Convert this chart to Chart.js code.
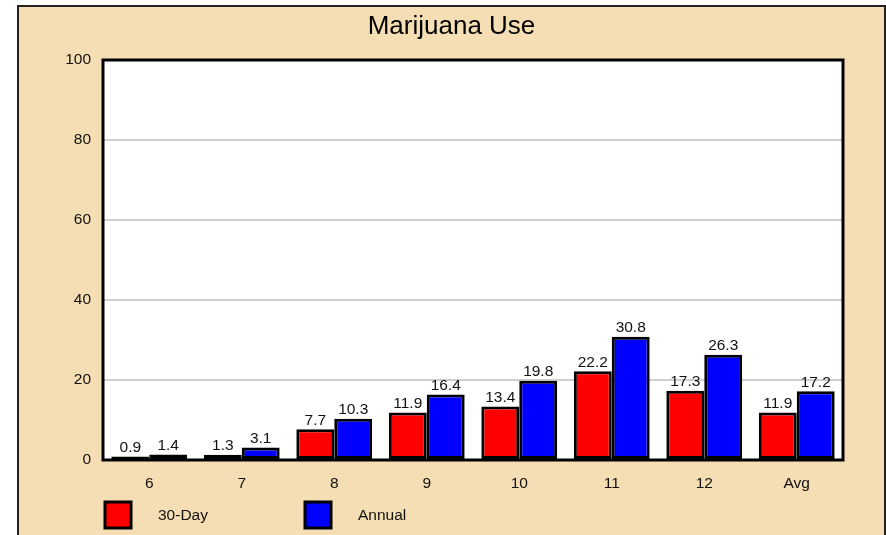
<!DOCTYPE html>
<html>
<head>
<meta charset="utf-8">
<script src="https://cdn.jsdelivr.net/npm/chart.js@4.4.0/dist/chart.umd.min.js"></script>
<style>
  html,body{margin:0;padding:0;background:#fff;overflow:hidden;}
  #box{position:absolute;left:17px;top:5px;width:865px;height:540px;background:#F5DEB3;border:2px solid #222;border-bottom:none;}
  #box canvas{display:block;}
</style>
</head>
<body>
<div id="box"><canvas id="c" width="865" height="528"></canvas></div>
<script>
const categories = ["6","7","8","9","10","11","12","Avg"];
const thirtyDay = [0.9,1.3,7.7,11.9,13.4,22.2,17.3,11.9];
const annual = [1.4,3.1,10.3,16.4,19.8,30.8,26.3,17.2];
const yTicks = [0,20,40,60,80,100];

const FONT = "Arial, 'Liberation Sans', sans-serif";

// fondo blanco del area de trazado
const plotBg = {
  id:"plotBg",
  beforeDraw(chart){
    const {ctx,chartArea:a} = chart;
    ctx.save();
    ctx.fillStyle = "#fff";
    ctx.fillRect(a.left,a.top,a.right-a.left,a.bottom-a.top);
    ctx.restore();
  }
};

// marco, etiquetas de valor, titulo y leyenda
const extras = {
  id:"extras",
  afterDraw(chart){
    const {ctx,chartArea:a} = chart;
    ctx.save();
    // etiquetas sobre barras
    ctx.font = "15.5px "+FONT;
    ctx.fillStyle = "#111";
    ctx.textAlign = "center";
    ctx.textBaseline = "bottom";
    chart.data.datasets.forEach((ds,di)=>{
      chart.getDatasetMeta(di).data.forEach((bar,i)=>{
        ctx.fillText(ds.data[i].toFixed(1), bar.x, bar.y-1);
      });
    });
    // marco
    ctx.strokeStyle = "#000";
    ctx.lineWidth = 3;
    ctx.strokeRect(a.left,a.top,a.right-a.left,a.bottom-a.top);
    // titulo
    ctx.font = "26px "+FONT;
    ctx.textBaseline = "middle";
    ctx.fillStyle = "#000";
    ctx.fillText("Marijuana Use", chart.width/2, 20);
    // leyenda
    const items = [["30-Day","#ff0000",86],["Annual","#0000ff",286]];
    ctx.font = "15.5px "+FONT;
    ctx.textAlign = "left";
    items.forEach(([lbl,col,x])=>{
      ctx.fillStyle = col;
      ctx.fillRect(x,495,26,26);
      ctx.lineWidth = 3;
      ctx.strokeRect(x,495,26,26);
      ctx.fillStyle = "#111";
      ctx.fillText(lbl, x+53, 509);
    });
    ctx.restore();
  }
};

new Chart(document.getElementById("c"),{
  type:"bar",
  data:{
    labels:categories,
    datasets:[
      {label:"30-Day",data:thirtyDay,backgroundColor:"#ff0000",borderColor:"#000",borderWidth:3,borderSkipped:false},
      {label:"Annual",data:annual,backgroundColor:"#0000ff",borderColor:"#000",borderWidth:3,borderSkipped:false}
    ]
  },
  options:{
    responsive:false,
    animation:false,
    categoryPercentage:0.82,
    barPercentage:1.0,
    layout:{padding:{top:53,right:41,left:0,bottom:0}},
    plugins:{legend:{display:false},title:{display:false},tooltip:{enabled:false}},
    scales:{
      x:{
        grid:{display:false,drawTicks:false},
        border:{display:false},
        ticks:{color:"#111",font:{size:15.5,family:FONT},padding:14},
        afterFit(s){ s.height = 75; }
      },
      y:{
        min:0,max:100,
        afterBuildTicks(s){ s.ticks = yTicks.map(v=>({value:v})); },
        grid:{color:"#cfcfcf",lineWidth:2,drawTicks:false},
        border:{display:false},
        ticks:{color:"#111",font:{size:15.5,family:FONT},padding:12},
        afterFit(s){ s.width = 84; }
      }
    }
  },
  plugins:[plotBg,extras]
});
</script>
</body>
</html>
